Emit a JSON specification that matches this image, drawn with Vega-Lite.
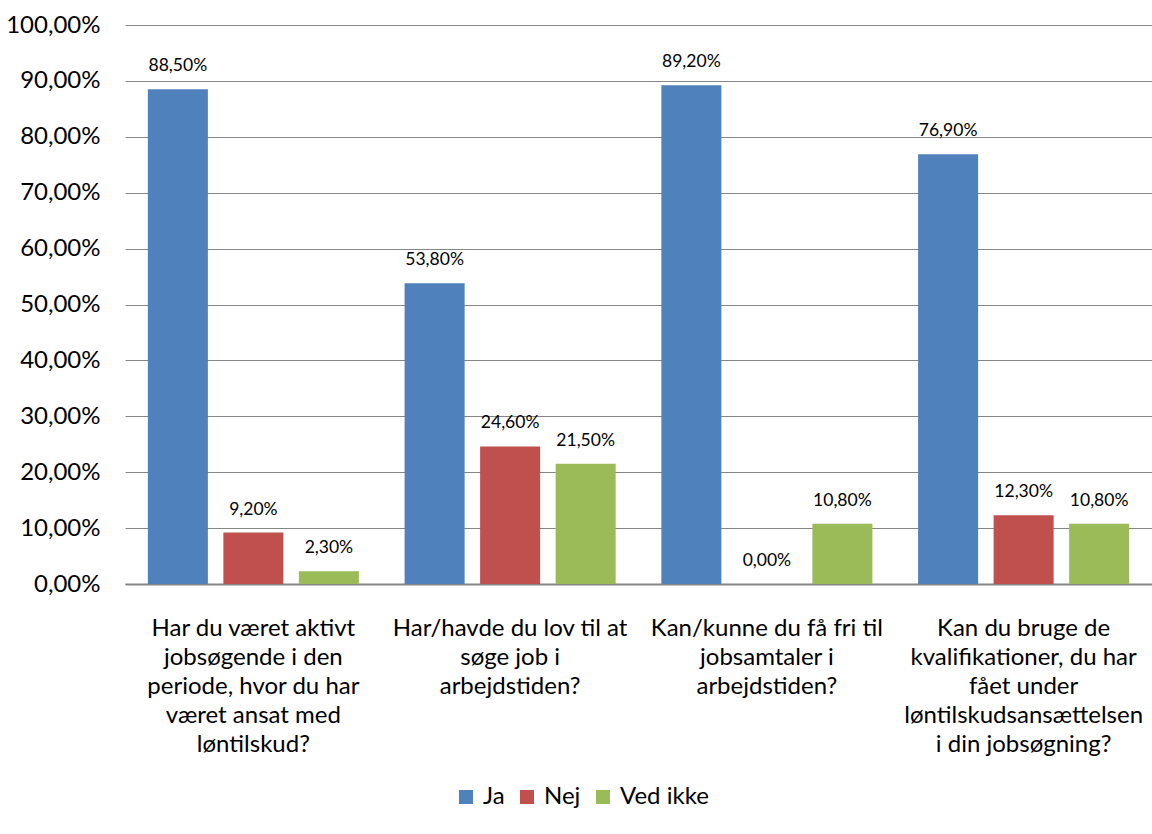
{
  "$schema": "https://vega.github.io/schema/vega-lite/v6.json",
  "width": 1027,
  "height": 559,
  "autosize": "none",
  "padding": {"left": 125, "top": 25, "right": 0, "bottom": 250},
  "config": {
    "locale": {"number": {"decimal": ",", "thousands": ".", "grouping": [3], "currency": ["", " kr."]}},
    "font": "Lato",
    "view": {"stroke": null}
  },
  "data": {
    "values": [
      {"q": "Har du været aktivt|jobsøgende i den|periode, hvor du har|været ansat med|løntilskud?", "o": 1, "svar": "Ja", "v": 0.885},
      {"q": "Har du været aktivt|jobsøgende i den|periode, hvor du har|været ansat med|løntilskud?", "o": 1, "svar": "Nej", "v": 0.092},
      {"q": "Har du været aktivt|jobsøgende i den|periode, hvor du har|været ansat med|løntilskud?", "o": 1, "svar": "Ved ikke", "v": 0.023},
      {"q": "Har/havde du lov til at|søge job i|arbejdstiden?", "o": 2, "svar": "Ja", "v": 0.538},
      {"q": "Har/havde du lov til at|søge job i|arbejdstiden?", "o": 2, "svar": "Nej", "v": 0.246},
      {"q": "Har/havde du lov til at|søge job i|arbejdstiden?", "o": 2, "svar": "Ved ikke", "v": 0.215},
      {"q": "Kan/kunne du få fri til|jobsamtaler i|arbejdstiden?", "o": 3, "svar": "Ja", "v": 0.892},
      {"q": "Kan/kunne du få fri til|jobsamtaler i|arbejdstiden?", "o": 3, "svar": "Nej", "v": 0.0},
      {"q": "Kan/kunne du få fri til|jobsamtaler i|arbejdstiden?", "o": 3, "svar": "Ved ikke", "v": 0.108},
      {"q": "Kan du bruge de|kvalifikationer, du har|fået under|løntilskudsansættelsen|i din jobsøgning?", "o": 4, "svar": "Ja", "v": 0.769},
      {"q": "Kan du bruge de|kvalifikationer, du har|fået under|løntilskudsansættelsen|i din jobsøgning?", "o": 4, "svar": "Nej", "v": 0.123},
      {"q": "Kan du bruge de|kvalifikationer, du har|fået under|løntilskudsansættelsen|i din jobsøgning?", "o": 4, "svar": "Ved ikke", "v": 0.108}
    ]
  },
  "encoding": {
    "x": {
      "field": "q", "type": "nominal", "sort": {"field": "o"},
      "scale": {"paddingInner": 0.178, "paddingOuter": 0.089},
      "axis": {
        "title": null, "labelAngle": 0, "labelExpr": "split(datum.label, '|')",
        "labelFontSize": 24, "labelLineHeight": 29, "labelColor": "#000000",
        "labelPadding": 32, "ticks": false, "domainColor": "#868686", "domainWidth": 2,
        "labelLimit": 300, "labelBaseline": "top"
      }
    },
    "xOffset": {"field": "svar", "type": "nominal", "scale": {"paddingInner": 0.205, "paddingOuter": 0}},
    "y": {
      "field": "v", "type": "quantitative",
      "scale": {"domain": [0, 1], "nice": false},
      "axis": {
        "title": null, "format": ".2%", "values": [0, 0.1, 0.2, 0.3, 0.4, 0.5, 0.6, 0.7, 0.8, 0.9, 1],
        "labelOverlap": false, "labelFontSize": 24, "labelColor": "#000000", "labelPadding": 25, "ticks": false, "domain": false,
        "gridColor": "#868686", "gridWidth": 1, "gridOpacity": 1
      }
    }
  },
  "layer": [
    {
      "mark": {"type": "bar"},
      "encoding": {
        "color": {
          "field": "svar", "type": "nominal",
          "scale": {"domain": ["Ja", "Nej", "Ved ikke"], "range": ["#4F81BD", "#C0504D", "#9BBB59"]},
          "legend": {
            "title": null, "orient": "none", "legendX": 329, "legendY": 760, "direction": "horizontal", "symbolType": "square",
            "symbolSize": 196, "symbolStrokeWidth": 0, "symbolOpacity": 1, "labelFontSize": 24, "labelColor": "#000000",
            "columnPadding": 10, "labelOffset": 5
          }
        }
      }
    },
    {
      "mark": {"type": "text", "dy": -14, "fontSize": 17.5, "color": "#000000", "baseline": "bottom"},
      "encoding": {
        "text": {"field": "v", "type": "quantitative", "format": ".2%"}
      }
    }
  ]
}
